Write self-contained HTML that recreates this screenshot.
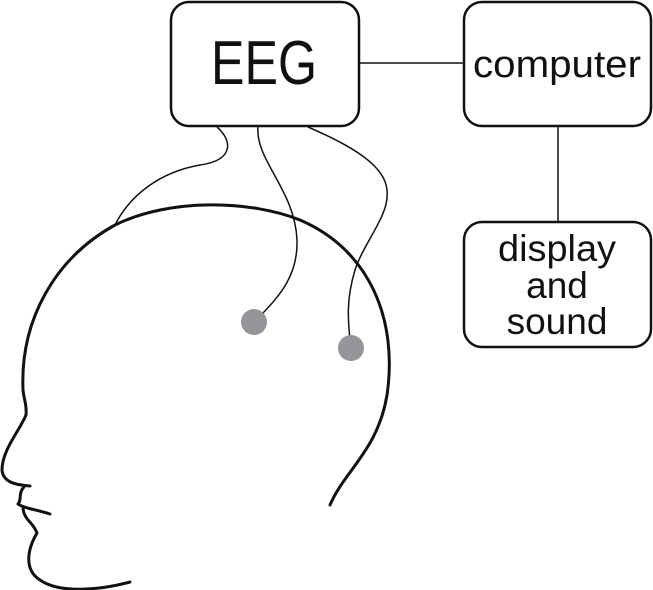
<!DOCTYPE html>
<html><head><style>
html,body{margin:0;padding:0;background:#fff;}
svg{display:block}
text{font-family:"Liberation Sans",sans-serif;fill:#111}
</style></head><body>
<svg width="653" height="590" viewBox="0 0 653 590" xmlns="http://www.w3.org/2000/svg">
<rect x="171" y="2" width="188" height="124" rx="18" fill="none" stroke="#111" stroke-width="2.5"/>
<rect x="464" y="2" width="187" height="124" rx="18" fill="none" stroke="#111" stroke-width="2.5"/>
<rect x="464" y="222" width="187" height="125" rx="18" fill="none" stroke="#111" stroke-width="2.5"/>
<line x1="359" y1="63" x2="464" y2="63" stroke="#111" stroke-width="1.5"/>
<line x1="558" y1="126" x2="558" y2="222" stroke="#111" stroke-width="1.5"/>
<text x="264" y="84" font-size="62" text-anchor="middle" textLength="106" lengthAdjust="spacingAndGlyphs">EEG</text>
<text x="557" y="77" font-size="38" text-anchor="middle" textLength="168" lengthAdjust="spacingAndGlyphs">computer</text>
<text x="557" y="261" font-size="37" text-anchor="middle" textLength="118" lengthAdjust="spacingAndGlyphs">display</text>
<text x="557" y="298" font-size="37" text-anchor="middle">and</text>
<text x="557" y="334" font-size="37" text-anchor="middle">sound</text>
<path d="M330,505 C345,470 378,450 387,395 C398,320 370,250 300,220 C250,200 170,198 115,225 C55,258 20,320 23,390 C24,400 27,405 26,415 C20,430 2,450 2,470 C3,482 15,485 30,486 M24,487 C18,493 22,500 18,504 C23,508 38,510 50,514 M23,508 C24,520 33,522 37,533 C27,550 24,570 40,580 C60,594 100,590 130,582" fill="none" stroke="#111" stroke-width="3" stroke-linecap="round" stroke-linejoin="round"/>
<path d="M217,127 C232,140 235,160 200,165 C160,172 130,195 115,225" fill="none" stroke="#111" stroke-width="1.5"/>
<path d="M258,127 C255,160 295,190 297,240 C298,275 280,295 263,313" fill="none" stroke="#111" stroke-width="1.5"/>
<path d="M308,127 C350,145 385,165 387,190 C390,215 365,240 355,270 C346,300 348,320 350,340" fill="none" stroke="#111" stroke-width="1.5"/>
<circle cx="254" cy="322" r="13" fill="#939598"/>
<circle cx="351" cy="348" r="13" fill="#939598"/>
</svg>
</body></html>
